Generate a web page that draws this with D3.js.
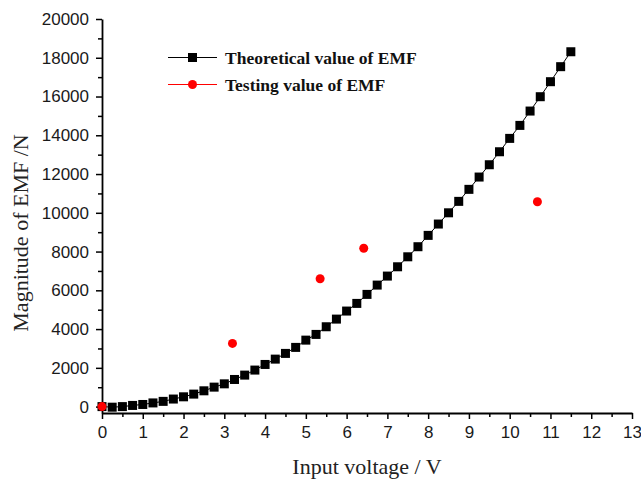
<!DOCTYPE html>
<html>
<head>
<meta charset="utf-8">
<script src="https://cdn.jsdelivr.net/npm/d3@7"></script>
<style>
  body { margin: 0; background: #fff; }
  .tick text { font-family: "Liberation Sans", Arial, sans-serif; font-size: 17px; fill: #1a1a1a; }
  .title { font-family: "Liberation Serif", "Times New Roman", serif; font-size: 22px; fill: #222; }
  .legend text { font-family: "Liberation Serif", "Times New Roman", serif; font-size: 17.5px; font-weight: bold; fill: #111; }
</style>
</head>
<body>
<div id="chart"></div>
<script>
// input voltage (V) for the theoretical curve
var theoryVolt = [0, 0.25, 0.5, 0.75, 1, 1.25, 1.5, 1.75, 2, 2.25, 2.5, 2.75,
  3, 3.25, 3.5, 3.75, 4, 4.25, 4.5, 4.75, 5, 5.25, 5.5, 5.75,
  6, 6.25, 6.5, 6.75, 7, 7.25, 7.5, 7.75, 8, 8.25, 8.5, 8.75,
  9, 9.25, 9.5, 9.75, 10, 10.25, 10.5, 10.75, 11, 11.25, 11.5];
// theoretical EMF (N)
var theoryEMF = [0, -30, 0, 60, 110, 190, 270, 390, 505, 645, 815, 1005,
  1175, 1400, 1625, 1885, 2175, 2450, 2745, 3055, 3430, 3725, 4120, 4515,
  4930, 5325, 5790, 6270, 6735, 7215, 7730, 8250, 8835, 9420, 10000, 10590,
  11210, 11845, 12480, 13150, 13840, 14510, 15250, 15990, 16765, 17540, 18310];
// measured points
var testVolt = [0, 3.2, 5.35, 6.42, 10.68];
var testEMF = [0, 3260, 6600, 8170, 10570];

var xTicks = d3.range(0, 14, 1);
var xMinor = d3.range(0.5, 13, 1);
var yTicks = d3.range(0, 20001, 2000);
var yMinor = d3.range(1000, 20000, 2000);

var legendItems = [
  {name: "Theoretical value of EMF", color: "#000", shape: "square"},
  {name: "Testing value of EMF", color: "#f00", shape: "circle"}
];

var width = 641, height = 480;

var svg = d3.select("#chart").append("svg")
    .attr("width", width)
    .attr("height", height);

var x = d3.scaleLinear().domain([0, 13]).range([102, 632]);
var y = d3.scaleLinear().domain([-330, 20000]).range([413, 19]);

// minor ticks first
svg.append("g")
    .attr("transform", "translate(0," + y.range()[0] + ")")
    .call(d3.axisBottom(x).tickValues(xMinor).tickSize(4).tickSizeOuter(0).tickFormat(""))
    .call(function(g){ g.select(".domain").remove(); });
svg.append("g")
    .attr("transform", "translate(" + x.range()[0] + ",0)")
    .call(d3.axisLeft(y).tickValues(yMinor).tickSize(4).tickSizeOuter(0).tickFormat(""))
    .call(function(g){ g.select(".domain").remove(); });

var xAxis = svg.append("g")
    .attr("class", "x axis")
    .attr("transform", "translate(0," + y.range()[0] + ")")
    .call(d3.axisBottom(x).tickValues(xTicks).tickSize(6).tickSizeOuter(0).tickPadding(7).tickFormat(d3.format("d")));

var yAxis = svg.append("g")
    .attr("class", "y axis")
    .attr("transform", "translate(" + x.range()[0] + ",0)")
    .call(d3.axisLeft(y).tickValues(yTicks).tickSize(6).tickSizeOuter(0).tickPadding(7).tickFormat(d3.format("d")));

svg.selectAll(".axis .domain").attr("stroke", "#000").attr("stroke-width", 1.8);
svg.selectAll(".tick line").attr("stroke", "#000").attr("stroke-width", 1.5);

// axis titles
svg.append("text")
    .attr("class", "title")
    .attr("x", 367)
    .attr("y", 474)
    .style("text-anchor", "middle")
    .text("Input voltage / V");

svg.append("text")
    .attr("class", "title")
    .attr("transform", "translate(28,233) rotate(-90)")
    .style("text-anchor", "middle")
    .text("Magnitude of EMF /N");

// theoretical curve
var theory = theoryVolt.map(function(v, i){ return {v: v, f: theoryEMF[i]}; });
var test = testVolt.map(function(v, i){ return {v: v, f: testEMF[i]}; });

var line = d3.line()
    .x(function(d){ return x(d.v); })
    .y(function(d){ return y(d.f); });

svg.append("path")
    .datum(theory)
    .attr("fill", "none")
    .attr("stroke", "#000")
    .attr("stroke-width", 1)
    .attr("d", line);

var sq = 9;
svg.selectAll(".sq")
    .data(theory)
  .enter().append("rect")
    .attr("class", "sq")
    .attr("x", function(d){ return x(d.v) - sq/2; })
    .attr("y", function(d){ return y(d.f) - sq/2; })
    .attr("width", sq)
    .attr("height", sq)
    .attr("fill", "#000");

svg.selectAll(".pt")
    .data(test)
  .enter().append("circle")
    .attr("class", "pt")
    .attr("cx", function(d){ return x(d.v); })
    .attr("cy", function(d){ return y(d.f); })
    .attr("r", 4.5)
    .attr("fill", "#f00");

// legend
var legend = svg.append("g").attr("class", "legend");
var item = legend.selectAll("g")
    .data(legendItems)
  .enter().append("g")
    .attr("transform", function(d, i){ return "translate(168," + (57.5 + i*27) + ")"; });

item.append("line")
    .attr("x1", 0).attr("x2", 49)
    .attr("stroke", function(d){ return d.color; })
    .attr("stroke-width", 1.2);

item.each(function(d){
  var g = d3.select(this);
  if(d.shape == "square"){
    g.append("rect").attr("x", 24.5 - 4.5).attr("y", -4.5)
      .attr("width", 9).attr("height", 9).attr("fill", d.color);
  } else {
    g.append("circle").attr("cx", 24.5).attr("r", 4.5).attr("fill", d.color);
  }
});

item.append("text")
    .attr("x", 57)
    .attr("dy", "0.36em")
    .text(function(d){ return d.name; });
</script>
</body>
</html>
